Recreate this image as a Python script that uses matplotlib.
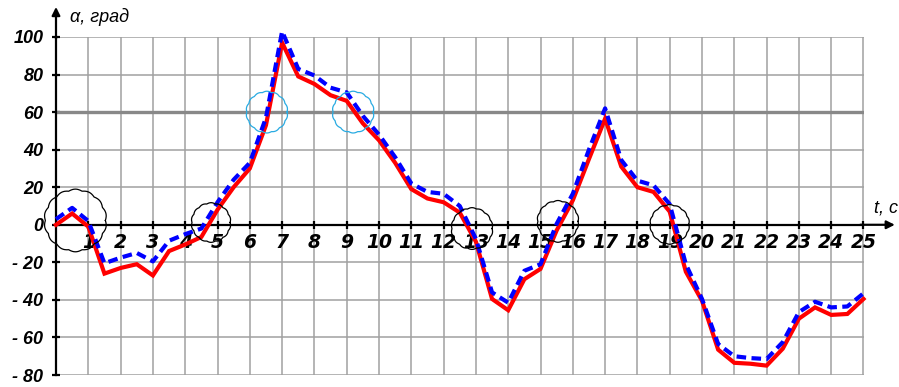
import numpy as np
import matplotlib
matplotlib.use('Agg')
import matplotlib.pyplot as plt

# Time samples, s
t = [0, 0.5, 1, 1.5, 2, 2.5, 3, 3.5, 4, 4.5, 5, 5.5, 6, 6.5, 7, 7.5, 8, 8.5, 9, 9.5,
     10, 10.5, 11, 11.5, 12, 12.5, 13, 13.5, 14, 14.5, 15, 15.5, 16, 16.5, 17, 17.5,
     18, 18.5, 19, 19.5, 20, 20.5, 21, 21.5, 22, 22.5, 23, 23.5, 24, 24.5, 25]

# Angle, degrees (solid red curve)
alpha_red = [0, 6, -1, -26, -23, -21, -27, -14, -10.5, -6.5, 8, 20, 30, 53, 97, 79,
             75, 69, 66, 54, 45, 33, 19, 14, 12, 6.5, -9, -39.5, -45.5, -29, -23.5,
             -3, 13, 35, 56.5, 31, 20, 17.5, 7, -25, -40.5, -66.5, -73.5, -74, -75,
             -66, -50, -44, -48, -47.5, -39.5]

# Angle, degrees (dashed blue curve)
alpha_blue = [3, 9, 2, -20.5, -17.5, -15, -19.5, -8.5, -5, -2, 12, 24, 33, 57, 103, 83,
              79.5, 73, 70.5, 58, 48, 36, 22, 17.5, 16.5, 10, -7.5, -36, -41.5, -24.5,
              -21, 0.5, 16.5, 40, 62, 34.5, 23.5, 21, 11, -21, -39.5, -63.5, -70, -71,
              -71.5, -62.5, -46.5, -41, -44, -43.5, -36.5]

x_ticks = list(range(1, 26))
y_ticks = [-80, -60, -40, -20, 0, 20, 40, 60, 80, 100]
y_tick_labels = ['- 80', '- 60', '- 40', '- 20', '0', '20', '40', '60', '80', '100']

# Highlighted spots: (t, alpha, radius in px, colour)
marks = [(0.6, 2.3, 30, 'black'), (4.8, 1.2, 19, 'black'), (12.88, -2, 20, 'black'),
         (15.54, 1.8, 20, 'black'), (19.0, 0.2, 19, 'black'),
         (6.53, 60, 20, '#29abe2'), (9.2, 60, 20, '#29abe2')]

fig = plt.figure(figsize=(8.99, 3.87), dpi=100)
ax = fig.add_axes([56 / 899, 1 - 375 / 387, 807.5 / 899, 338 / 387])
ax.set_xlim(0, 25)
ax.set_ylim(-80, 100)

# grid
ax.set_xticks(x_ticks)
ax.set_yticks(y_ticks)
ax.grid(True, color='#a0a0a0', lw=1.1, zorder=0)
ax.set_axisbelow(True)
ax.axhline(60, color='#888888', lw=2.4, zorder=1)

for s in ['top', 'right']:
    ax.spines[s].set_visible(False)
ax.spines['bottom'].set_position(('data', 0))
ax.spines['bottom'].set_linewidth(1.6)
ax.spines['left'].set_linewidth(1.6)
ax.spines['bottom'].set_zorder(1.5)
ax.spines['left'].set_zorder(1.5)

ax.tick_params(axis='both', direction='inout', length=6, width=1.6, color='black')
ax.tick_params(axis='x', pad=3)
ax.tick_params(axis='y', pad=6)
ax.set_yticklabels(y_tick_labels, fontfamily='Liberation Sans', fontweight='bold',
                   fontstyle='italic', fontsize=13)
ax.set_xticklabels([str(v) for v in x_ticks], fontfamily='Liberation Sans Narrow',
                   fontweight='bold', fontstyle='italic', fontsize=13.5)

# axis arrows
ax.annotate('', xy=(0, 116), xytext=(0, 99), annotation_clip=False,
            arrowprops=dict(arrowstyle='-|>', color='black', lw=1.6, mutation_scale=12,
                            shrinkA=0, shrinkB=0))
ax.annotate('', xy=(25.97, 0), xytext=(24.9, 0), annotation_clip=False,
            arrowprops=dict(arrowstyle='-|>', color='black', lw=1.6, mutation_scale=12,
                            shrinkA=0, shrinkB=0))

ax.text(0.43, 110.5, 'α, град', fontfamily='Liberation Sans', fontstyle='italic',
        fontsize=13, va='center', ha='left')
ax.text(25.33, 9, 't, c', fontfamily='Liberation Sans', fontstyle='italic',
        fontsize=13, va='center', ha='left', clip_on=False)

# curves
ax.plot(t, alpha_red, color='#ff0000', lw=3, solid_joinstyle='miter', zorder=3,
        clip_on=False)
ax.plot(t, alpha_blue, color='#0000ff', lw=3, linestyle=(0, (2.3, 1.3)),
        dash_capstyle='butt', zorder=4, clip_on=False)

# scalloped circles around the points of interest
px_x = 807.5 / 25
px_y = 338 / 180
theta = np.linspace(0, 2 * np.pi, 400)
for cx, cy, r, col in marks:
    rr = r * (1 + 0.045 * np.abs(np.sin(7 * theta)))
    ax.plot(cx + rr * np.cos(theta) / px_x, cy + rr * np.sin(theta) / px_y,
            color=col, lw=0.9, zorder=5, clip_on=False)

fig.savefig('out.png', dpi=100)
